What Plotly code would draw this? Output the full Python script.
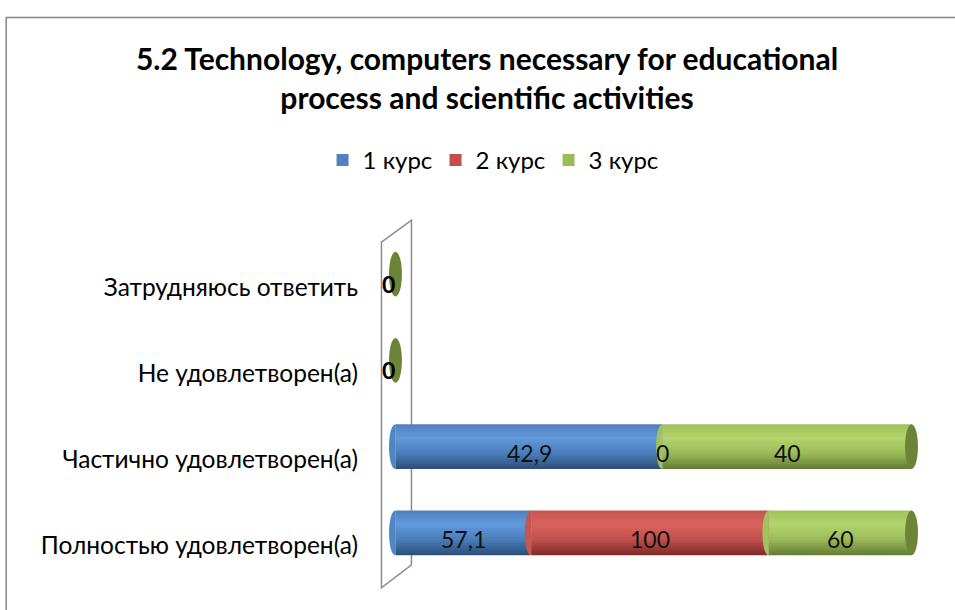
import plotly.graph_objects as go

# ---------------- data ----------------
categories = ["Полностью удовлетворен(а)", "Частично удовлетворен(а)",
              "Не удовлетворен(а)", "Затрудняюсь ответить"]
series_names = ["1 курс", "2 курс", "3 курс"]
kurs1 = [57.1, 42.9, 0, 0]
kurs2 = [100, 0, 0, 0]
kurs3 = [60, 40, 0, 0]
title_text = "5.2 Technology, computers necessary for educational<br>process and scientific activities"

series_values = [kurs1, kurs2, kurs3]

# ---------------- styles ----------------
FONT = "Lato"
# gradient stops (bottom -> top): dark, mid, light, top
grad = [
    [(44, 77, 117), (74, 126, 187), (98, 153, 220), (78, 128, 190)],
    [(122, 42, 40), (192, 80, 77), (218, 98, 94), (196, 84, 80)],
    [(98, 122, 52), (155, 187, 89), (178, 212, 108), (160, 192, 92)],
]
main_colors = ["#4F81BD", "#C0504D", "#9BBB59"]
cap_colors = ["#3A6190", "#8E3B39", "#6B8437"]
stops = [0.0, 0.35, 0.7, 1.0]


def grad_color(i, t):
    g = grad[i]
    for j in range(len(stops) - 1):
        if stops[j] <= t <= stops[j + 1]:
            f = (t - stops[j]) / (stops[j + 1] - stops[j])
            c = [round(g[j][m] + (g[j + 1][m] - g[j][m]) * f) for m in range(3)]
            return "rgb(%d,%d,%d)" % tuple(c)
    return "rgb(%d,%d,%d)" % g[-1]


def fmt(v):
    return ("%g" % v).replace(".", ",")


n_cat = len(categories)
ypos = list(range(n_cat))
totals = [sum(s[c] for s in series_values) for c in range(n_cat)]
pct = [[(s[c] / totals[c] * 100 if totals[c] else 0) for c in range(n_cat)] for s in series_values]
base_rows = []
for i in range(len(series_values)):
    base_rows.append([sum(pct[k][c] for k in range(i)) for c in range(n_cat)])

BAR_W = 0.52
N_BANDS = 18
RX = 1.25  # half width of end ellipses (x units)
RY = BAR_W / 2
LABEL_DROP = 0.15  # category labels sit a little below bar centres

fig = go.Figure()

for i, name in enumerate(series_names):
    bw = BAR_W / N_BANDS
    for k in range(N_BANDS):
        t = (k + 0.5) / N_BANDS
        w = bw * (1.6 if k < N_BANDS - 1 else 1.0)
        fig.add_trace(go.Bar(
            orientation="h", y=ypos, x=pct[i], base=base_rows[i],
            width=w, offset=-BAR_W / 2 + k * bw,
            marker=dict(color=grad_color(i, t), line=dict(width=0)),
            showlegend=False, hoverinfo="skip"))
    # legend entry
    fig.add_trace(go.Bar(orientation="h", y=[None], x=[None], name=name,
                         marker=dict(color=main_colors[i], line=dict(width=0))))

shapes = []
annotations = []
for c in range(n_cat):
    if totals[c] == 0:
        shapes.append(dict(type="circle", xref="x", yref="y",
                           x0=-RX, x1=RX, y0=c - RY, y1=c + RY,
                           fillcolor=cap_colors[-1], line=dict(width=0)))
        annotations.append(dict(x=0, y=c, xref="x", yref="y", text="<b>0</b>",
                                showarrow=False, xshift=-7, yshift=-10,
                                font=dict(family=FONT, size=23, color="#000")))
        continue
    last = None
    for i in range(len(series_values)):
        b = base_rows[i][c]
        v = pct[i][c]
        if v > 0:
            k4 = 4 / 3 * RX
            path = "M %f,%f C %f,%f %f,%f %f,%f Z" % (
                b, c + RY, b - k4, c + RY, b - k4, c - RY, b, c - RY)
            shapes.append(dict(type="path", xref="x", yref="y", path=path,
                               fillcolor=grad_color(i, 0.45), line=dict(width=0)))
            last = i
        annotations.append(dict(x=b + v / 2, y=c, xref="x", yref="y",
                                text=fmt(series_values[i][c]), showarrow=False,
                                yshift=-6,
                                font=dict(family=FONT, size=23, color="#111")))
    shapes.append(dict(type="circle", xref="x", yref="y",
                       x0=100 - RX, x1=100 + RX, y0=c - RY, y1=c + RY,
                       fillcolor=cap_colors[last], line=dict(width=0)))

# Back wall (decorative) and outer chart border, in paper coords
wall = "M 0.0027,0.9676 L 0.0575,1.0313 L 0.0575,0.0324 L 0.0027,-0.0342 Z"
shapes.insert(0, dict(type="path", xref="paper", yref="paper", path=wall,
                      line=dict(color="#8C8C8C", width=1.5), layer="below"))
shapes.insert(0, dict(type="rect", xref="paper", yref="paper",
                      x0=-0.6834, x1=1.0593, y0=-0.127, y1=1.619,
                      line=dict(color="#868686", width=1.5), layer="below"))

fig.update_layout(
    width=955, height=610,
    margin=dict(l=379.5, r=27.5, t=230.8, b=33.8, pad=0),
    paper_bgcolor="white", plot_bgcolor="rgba(0,0,0,0)",
    barmode="overlay",
    title=dict(text="<b>" + title_text + "</b>", x=0.51, xanchor="center",
               y=1 - 70 / 610, yanchor="top",
               font=dict(family=FONT, size=30, color="#000")),
    legend=dict(orientation="h", x=-0.105, xanchor="left", y=1.205, yanchor="middle",
                font=dict(family=FONT, size=24, color="#000"),
                entrywidth=68, entrywidthmode="pixels", traceorder="normal",
                bgcolor="rgba(0,0,0,0)"),
    xaxis=dict(range=[-3, 103], visible=False, fixedrange=True),
    yaxis=dict(range=[-0.5, n_cat - 0.5],
               tickvals=[c - LABEL_DROP for c in ypos], ticktext=categories,
               showgrid=False, zeroline=False, showline=False, ticks="",
               ticklabelstandoff=21, fixedrange=True,
               tickfont=dict(family=FONT, size=24.5, color="#000")),
    shapes=shapes, annotations=annotations,
    font=dict(family=FONT),
)

fig.write_html("out.html", config={"displayModeBar": False},
               post_script="document.body.style.margin='0';document.body.style.overflow='hidden';")
